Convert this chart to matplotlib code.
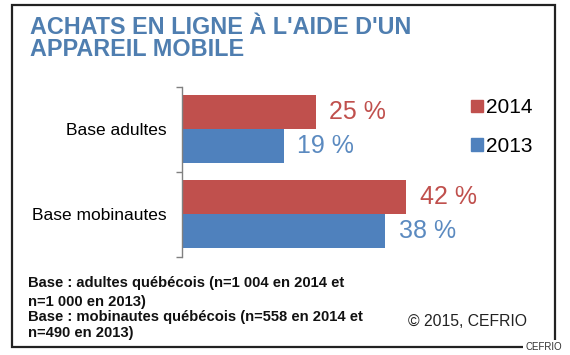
import matplotlib
matplotlib.use("Agg")
import matplotlib.pyplot as plt
from matplotlib.patches import Rectangle, Patch

categories = ["Base adultes", "Base mobinautes"]
years = ["2014", "2013"]
values_2014 = [25, 42]
values_2013 = [19, 38]
title_lines = ["ACHATS EN LIGNE À L'AIDE D'UN", "APPAREIL MOBILE"]
notes = ["Base : adultes québécois (n=1 004 en 2014 et",
         "n=1 000 en 2013)",
         "Base : mobinautes québécois (n=558 en 2014 et",
         "n=490 en 2013)"]
copyright_text = "© 2015, CEFRIO"
credit = "CEFRIO"

RED = "#C0504D"
BLUE = "#4F81BD"
RED_TXT = "#C0504D"
BLUE_TXT = "#5B8AC0"
TITLE_C = "#4F7EB0"

plt.rcParams['font.family'] = ['Liberation Sans', 'DejaVu Sans']

W, H = 570, 355
fig = plt.figure(figsize=(W / 100, H / 100), dpi=100)

def fx(x):
    return x / W

def fy(y):
    return 1 - y / H

# outer frame
fig.patches.append(Rectangle((fx(12), fy(347)), fx(555) - fx(12), fy(5) - fy(347),
                             transform=fig.transFigure, fill=False,
                             edgecolor="#222222", linewidth=1.6, zorder=1))

# axes
ax = fig.add_axes([fx(182), fy(256.5), fx(540) - fx(182), fy(86.5) - fy(256.5)])
ax.set_xlim(0, 67)
ax.set_ylim(1.5, -0.5)
bh = 0.4
ypos = list(range(len(categories)))
b14 = ax.barh([y - bh / 2 for y in ypos], values_2014, height=bh, color=RED, label=years[0])
b13 = ax.barh([y + bh / 2 for y in ypos], values_2013, height=bh, color=BLUE, label=years[1])

for y, v in zip(ypos, values_2014):
    ax.annotate(f"{v} %", (v, y - bh / 2), xytext=(10, 0), textcoords="offset points",
                ha="left", va="center", fontsize=18, color=RED_TXT)
for y, v in zip(ypos, values_2013):
    ax.annotate(f"{v} %", (v, y + bh / 2), xytext=(10, 0), textcoords="offset points",
                ha="left", va="center", fontsize=18, color=BLUE_TXT)

for s in ["top", "right", "bottom"]:
    ax.spines[s].set_visible(False)
ax.spines["left"].set_color("#808080")
ax.spines["left"].set_linewidth(1.0)
ax.set_xticks([])
ax.set_yticks(ypos)
ax.set_yticklabels(categories, fontsize=12.5)
ax.tick_params(axis="y", which="major", length=0, pad=11)
ax.set_yticks([-0.5, 0.5, 1.5], minor=True)
ax.tick_params(axis="y", which="minor", length=4, color="#808080", width=1.0)
ax.patch.set_alpha(0)

handles = [Patch(color=RED), Patch(color=BLUE)]
fig.legend(handles, years, loc="upper left", bbox_to_anchor=(fx(463), fy(90)),
           frameon=False, fontsize=15, handlelength=0.55, handleheight=0.55,
           handletextpad=0.15, labelspacing=0.95, borderaxespad=0)

# title
fig.text(fx(30), fy(27.5), title_lines[0], fontsize=16.8, fontweight="bold",
         color=TITLE_C, va="center", ha="left")
fig.text(fx(30), fy(49.5), title_lines[1], fontsize=16.8, fontweight="bold",
         color=TITLE_C, va="center", ha="left")

# notes
for y, t in zip([283, 302, 317, 333], notes):
    fig.text(fx(28), fy(y), t, fontsize=10.6, fontweight="bold", color="#111111",
             va="center", ha="left")

fig.text(fx(408), fy(322), copyright_text, fontsize=11.3, color="#222222",
         va="center", ha="left")

fig.text(fx(562), fy(347), credit, fontsize=7, color="#333333", va="center", ha="right",
         bbox=dict(facecolor="white", edgecolor="none", pad=1.5), zorder=5)

fig.savefig("out.png", dpi=100)
